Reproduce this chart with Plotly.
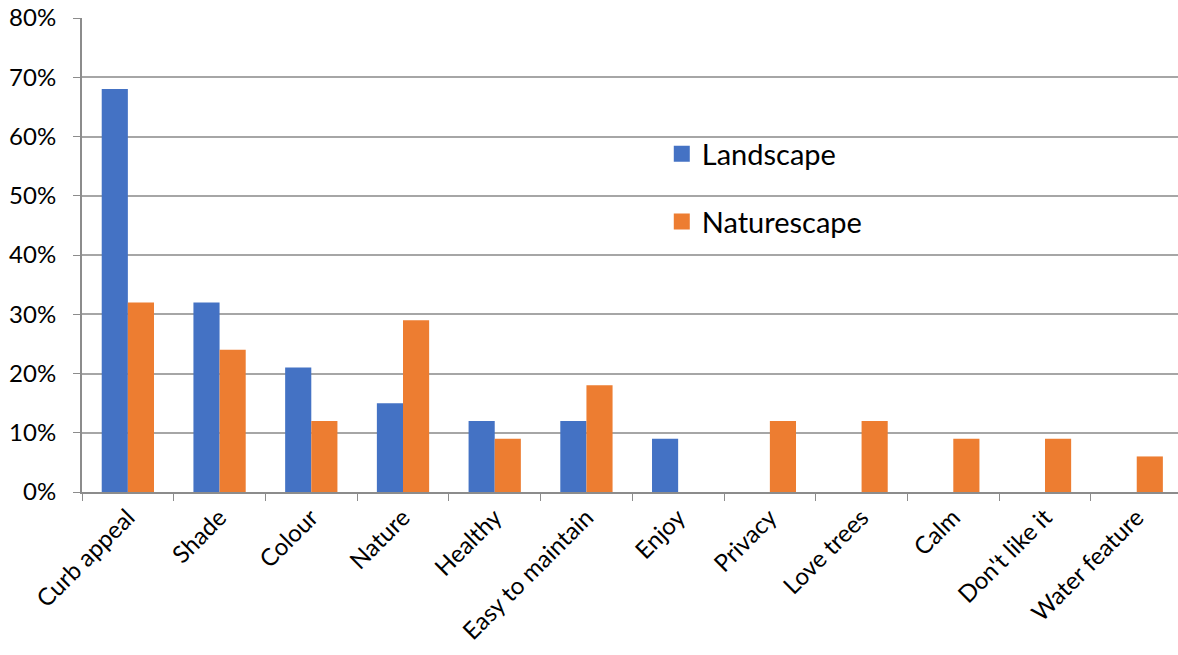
import plotly.graph_objects as go

categories = ["Curb appeal", "Shade", "Colour", "Nature", "Healthy", "Easy to maintain",
              "Enjoy", "Privacy", "Love trees", "Calm", "Don't like it", "Water feature"]
landscape = [68, 32, 21, 15, 12, 12, 9, 0, 0, 0, 0, 0]
naturescape = [32, 24, 12, 29, 9, 18, 0, 12, 12, 9, 9, 6]
y_ticks = [0, 10, 20, 30, 40, 50, 60, 70, 80]
y_labels = [f"{v}%" for v in y_ticks]

FONT = "Lato, 'Open Sans', sans-serif"
BLUE = "#4472C4"
ORANGE = "#ED7D31"

fig = go.Figure()
fig.add_trace(go.Bar(name="Landscape", x=categories, y=landscape,
                     marker=dict(color=BLUE, line=dict(width=0)),
                     showlegend=False))
fig.add_trace(go.Bar(name="Naturescape", x=categories, y=naturescape,
                     marker=dict(color=ORANGE, line=dict(width=0)),
                     showlegend=False))

# legend entries with larger square swatches
for name, color, grp in [("Landscape", BLUE, "a"), ("Naturescape", ORANGE, "b")]:
    fig.add_trace(go.Scatter(name=name, x=[None], y=[None], mode="markers",
                             marker=dict(symbol="square", size=19, color=color),
                             legendgroup=grp, showlegend=True))

fig.update_layout(
    width=1178, height=655,
    margin=dict(l=82, r=0, t=18, b=163),
    paper_bgcolor="white", plot_bgcolor="white",
    barmode="group", bargap=0.43, bargroupgap=0,
    font=dict(family=FONT, color="#000000", size=24),
    legend=dict(x=0.529, y=0.767, xanchor="left", yanchor="top",
                font=dict(size=29, family=FONT),
                tracegroupgap=27, bgcolor="rgba(0,0,0,0)",
                itemsizing="trace", itemwidth=30),
    showlegend=True,
)
fig.update_xaxes(
    type="category", range=[-0.5, 11.45],
    tickangle=-45, tickson="boundaries",
    ticks="outside", ticklen=7, tickcolor="#8c8c8c",
    showline=True, linecolor="#8c8c8c", linewidth=2,
    showgrid=False, tickfont=dict(size=24, family=FONT),
)
fig.update_yaxes(
    range=[0, 80], tickvals=y_ticks, ticktext=y_labels,
    ticks="outside", ticklen=7, tickcolor="#8c8c8c",
    showline=True, linecolor="#8c8c8c", linewidth=2,
    showgrid=True, gridcolor="#a6a6a6", gridwidth=1.5,
    zeroline=False, tickfont=dict(size=24, family=FONT),
    ticklabelstandoff=12,
)

fig.write_html("out.html")
